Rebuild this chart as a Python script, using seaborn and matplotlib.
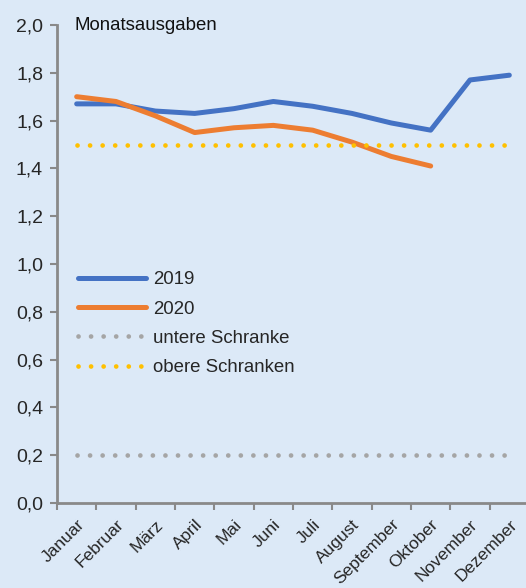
import matplotlib
matplotlib.use("Agg")
import matplotlib.pyplot as plt
import seaborn as sns
import pandas as pd
import numpy as np
from matplotlib.ticker import FuncFormatter

months = ["Januar", "Februar", "März", "April", "Mai", "Juni", "Juli",
          "August", "September", "Oktober", "November", "Dezember"]
y2019 = [1.67, 1.67, 1.64, 1.63, 1.65, 1.68, 1.66, 1.63, 1.59, 1.56, 1.77, 1.79]
y2020 = [1.70, 1.68, 1.62, 1.55, 1.57, 1.58, 1.56, 1.51, 1.45, 1.41]
lower_bound = [0.2] * 12
upper_bound = [1.5] * 12

bg = "#dce9f7"
sns.set_theme(style="white")
plt.rcParams["font.family"] = ["Liberation Sans", "DejaVu Sans"]

fig = plt.figure(figsize=(5.26, 5.88), dpi=100, facecolor=bg)
ax = fig.add_axes([57/526, 85/588, 472/526, 478/588])
ax.set_facecolor(bg)

x_idx = np.arange(len(months))
df = pd.concat([
    pd.DataFrame({"x": x_idx, "y": y2019, "s": "2019"}),
    pd.DataFrame({"x": x_idx[:len(y2020)], "y": y2020, "s": "2020"}),
    pd.DataFrame({"x": x_idx, "y": lower_bound, "s": "untere Schranke"}),
    pd.DataFrame({"x": x_idx, "y": upper_bound, "s": "obere Schranken"}),
])
palette = {"2019": "#4472c4", "2020": "#ed7d31",
           "untere Schranke": "#a5a5a5", "obere Schranken": "#ffc000"}
sns.lineplot(data=df, x="x", y="y", hue="s", palette=palette, ax=ax,
             linewidth=3.6, legend=False, sort=False)

lines = ax.get_lines()
for ln in lines[2:]:
    ln.set_linestyle((0, (0.01, 2.65)))
    ln.set_dash_capstyle("round")
    ln.set_linewidth(3.4)
for ln in lines[:2]:
    ln.set_solid_capstyle("round")
    ln.set_solid_joinstyle("round")

ax.set_xlim(-0.5, 11.5)
ax.set_ylim(0, 2.0)
ax.set_yticks(np.arange(0, 2.01, 0.2))
ax.yaxis.set_major_formatter(FuncFormatter(lambda v, p: f"{v:.1f}".replace(".", ",")))
ax.set_xticks(x_idx)
ax.set_xticklabels(months, rotation=45, ha="right", rotation_mode="anchor", fontsize=12.5)
ax.set_xticks(np.arange(-0.5, 11.6, 1), minor=True)
ax.tick_params(axis="x", which="major", bottom=True, length=0, pad=10)
ax.tick_params(axis="x", which="minor", bottom=True, length=5, width=1.5,
               color="#898989", direction="out")
ax.tick_params(axis="y", which="major", left=True, length=5, width=1.5, color="#898989",
               direction="out", labelsize=14, pad=5)
ax.set_xlabel("")
ax.set_ylabel("")

for side in ["top", "right"]:
    ax.spines[side].set_visible(False)
for side in ["left", "bottom"]:
    ax.spines[side].set_color("#898989")
    ax.spines[side].set_linewidth(2)

ax.text(0.037, 0.99, "Monatsausgaben", transform=ax.transAxes, fontsize=13.4,
        ha="left", va="baseline", color="#111111")

labels = ["2019", "2020", "untere Schranke", "obere Schranken"]
leg = ax.legend(lines, labels, loc="upper left", bbox_to_anchor=(0.008, 0.52),
                frameon=False, fontsize=13.4, handlelength=3.7, handletextpad=0.35,
                labelspacing=0.66)
for h in leg.get_lines()[:2]:
    h.set_solid_capstyle("round")

fig.savefig("out.png", dpi=100, facecolor=bg)
